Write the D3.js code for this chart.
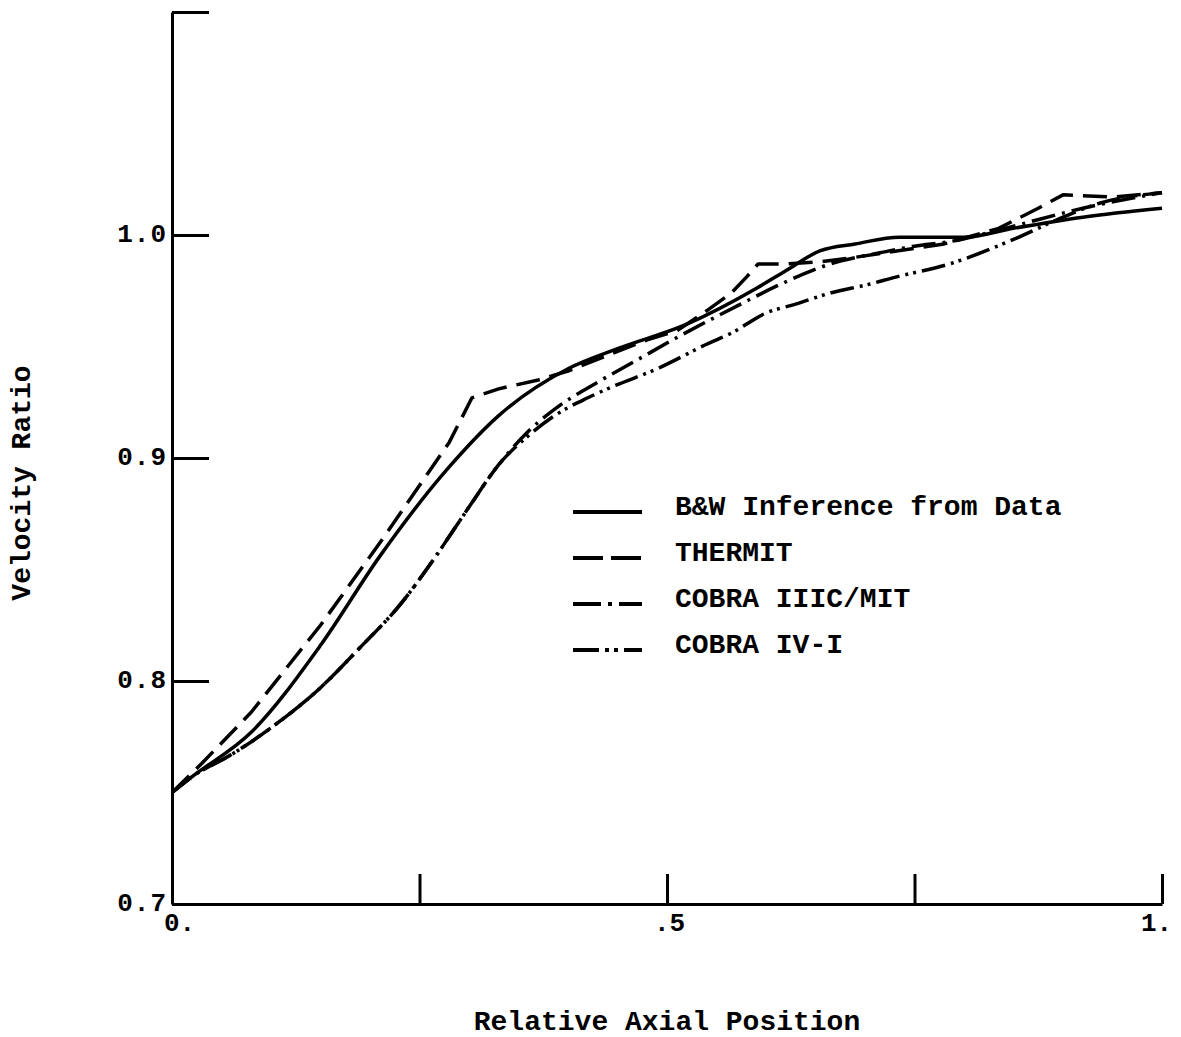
<!DOCTYPE html>
<html>
<head>
<meta charset="utf-8">
<script src="https://cdn.jsdelivr.net/npm/d3@7"></script>
<style>
  html, body { margin: 0; padding: 0; background: #fff; }
  svg { display: block; }
  text { font-family: "Liberation Mono", "Courier New", monospace; fill: #000; }
</style>
</head>
<body>
<svg id="chart" width="1181" height="1037"></svg>
<script>
// ---------------- DATA ----------------
const seriesNames = ["B&W Inference from Data", "THERMIT", "COBRA IIIC/MIT", "COBRA IV-I"];

const bwData = [
  [0, 0.750], [0.02, 0.757], [0.08, 0.777], [0.15, 0.816], [0.21, 0.856],
  [0.28, 0.896], [0.33, 0.919], [0.40, 0.940], [0.45, 0.949], [0.52, 0.960],
  [0.59, 0.976], [0.62, 0.984], [0.655, 0.993], [0.69, 0.996], [0.735, 0.999],
  [0.80, 0.999], [0.85, 1.003], [0.92, 1.008], [1.0, 1.012]
];

const thermitData = [
  [0, 0.750], [0.03, 0.763], [0.08, 0.786], [0.15, 0.825], [0.21, 0.862],
  [0.28, 0.907], [0.303, 0.927], [0.33, 0.931], [0.37, 0.935], [0.40, 0.939],
  [0.48, 0.953], [0.51, 0.957], [0.54, 0.966], [0.565, 0.974], [0.58, 0.981],
  [0.592, 0.987], [0.62, 0.987], [0.655, 0.988], [0.69, 0.990], [0.72, 0.992],
  [0.78, 0.996], [0.835, 1.003], [0.875, 1.012], [0.90, 1.018], [0.95, 1.017],
  [1.0, 1.019]
];

const cobra3Data = [
  [0, 0.750], [0.02, 0.757], [0.06, 0.767], [0.10, 0.779], [0.15, 0.797],
  [0.19, 0.815], [0.23, 0.834], [0.265, 0.855], [0.30, 0.878], [0.33, 0.897],
  [0.36, 0.912], [0.39, 0.923], [0.43, 0.934], [0.47, 0.944], [0.51, 0.954],
  [0.57, 0.968], [0.62, 0.979], [0.665, 0.987], [0.715, 0.992], [0.75, 0.995],
  [0.785, 0.997], [0.85, 1.004], [0.92, 1.012], [1.0, 1.019]
];

const cobra4Data = [
  [0, 0.750], [0.02, 0.757], [0.06, 0.767], [0.10, 0.779], [0.15, 0.797],
  [0.19, 0.815], [0.23, 0.834], [0.265, 0.855], [0.30, 0.878], [0.33, 0.897],
  [0.36, 0.910], [0.39, 0.920], [0.42, 0.927], [0.445, 0.932], [0.49, 0.940],
  [0.54, 0.951], [0.565, 0.956], [0.60, 0.965], [0.63, 0.969], [0.665, 0.974],
  [0.705, 0.978], [0.73, 0.981], [0.785, 0.987], [0.85, 0.998], [0.90, 1.008],
  [0.935, 1.014], [1.0, 1.019]
];

const xTicks = [0, 0.25, 0.5, 0.75, 1.0];
const xTickLabels = ["0.", "", ".5", "", "1."];
const yTicks = [0.7, 0.8, 0.9, 1.0, 1.1];
const yTickLabels = ["0.7", "0.8", "0.9", "1.0", ""];
const xTitle = "Relative Axial Position";
const yTitle = "Velocity Ratio";

// ---------------- CHART ----------------
const svg = d3.select("#chart");
const x = d3.scaleLinear().domain([0, 1]).range([172, 1162]);
const y = d3.scaleLinear().domain([0.7, 1.1]).range([904, 12]);

const axisStroke = 3;

// X axis (ticks point up)
const xAxis = d3.axisBottom(x)
  .tickValues(xTicks)
  .tickSize(-30)
  .tickSizeOuter(0)
  .tickPadding(11)
  .tickFormat((d, i) => xTickLabels[i]);
const gx = svg.append("g").attr("transform", `translate(0,${y(0.7)})`).call(xAxis);
gx.select(".domain").attr("stroke", "#000").attr("stroke-width", axisStroke);
gx.selectAll(".tick line").attr("stroke", "#000").attr("stroke-width", axisStroke);
gx.selectAll(".tick text")
  .attr("font-size", 26).attr("font-weight", "bold")
  .attr("font-family", '"Liberation Mono", monospace')
  .attr("dx", d => d === 0 ? 7 : (d === 1 ? -6 : 2))
  .attr("dy", "0.6em");

// Y axis (ticks point right)
const yAxis = d3.axisLeft(y)
  .tickValues(yTicks)
  .tickSize(-37)
  .tickSizeOuter(0)
  .tickPadding(5)
  .tickFormat((d, i) => yTickLabels[i]);
const gy = svg.append("g").attr("transform", `translate(${x(0)},0)`).call(yAxis);
gy.select(".domain").attr("stroke", "#000").attr("stroke-width", axisStroke);
gy.selectAll(".tick line").attr("stroke", "#000").attr("stroke-width", axisStroke);
gy.selectAll(".tick text")
  .attr("font-size", 26).attr("font-weight", "bold")
  .attr("font-family", '"Liberation Mono", monospace')
  .attr("letter-spacing", 1)
  .attr("dy", "0.25em");

// Axis titles
svg.append("text")
  .attr("x", (x(0) + x(1)) / 2).attr("y", 1030)
  .attr("text-anchor", "middle")
  .attr("font-size", 28).attr("font-weight", "bold")
  .text(xTitle);

svg.append("text")
  .attr("transform", `translate(30,${(y(0.7) + y(1.1)) / 2 + 25}) rotate(-90)`)
  .attr("text-anchor", "middle")
  .attr("font-size", 28).attr("font-weight", "bold")
  .text(yTitle);

// Curves
const lineW = 3.5;
const styles = [
  { data: bwData, dash: null, curve: d3.curveMonotoneX },
  { data: thermitData, dash: "24,10", curve: d3.curveLinear },
  { data: cobra3Data, dash: "24,7,3,7", curve: d3.curveMonotoneX },
  { data: cobra4Data, dash: "24,6,3,5,3,6", curve: d3.curveMonotoneX }
];

styles.forEach(s => {
  const line = d3.line().x(d => x(d[0])).y(d => y(d[1])).curve(s.curve);
  svg.append("path")
    .datum(s.data)
    .attr("d", line)
    .attr("fill", "none")
    .attr("stroke", "#000")
    .attr("stroke-width", lineW)
    .attr("stroke-linejoin", "round")
    .attr("stroke-dasharray", s.dash);
});

// Legend
const legendDash = [null, "30,8", "28,7,4,7", "26,6,4,5,4,6"];
const legendTop = 512, legendStep = 46;
seriesNames.forEach((name, i) => {
  const ly = legendTop + i * legendStep;
  svg.append("line")
    .attr("x1", 573).attr("x2", 642)
    .attr("y1", ly).attr("y2", ly)
    .attr("stroke", "#000").attr("stroke-width", 4)
    .attr("stroke-dasharray", legendDash[i]);
  svg.append("text")
    .attr("x", 675).attr("y", ly - 7)
    .attr("dy", "0.35em")
    .attr("font-size", 28).attr("font-weight", "bold")
    .text(name);
});
</script>
</body>
</html>
